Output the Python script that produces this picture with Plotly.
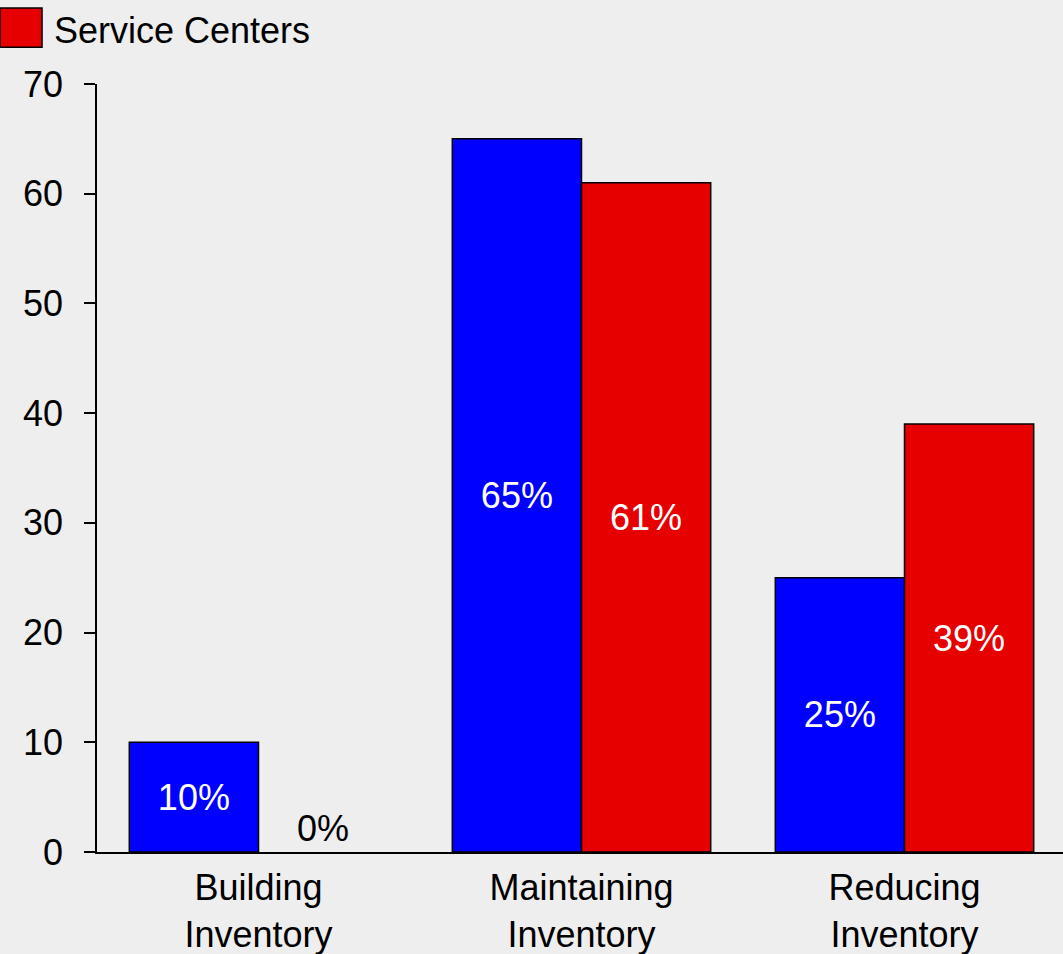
import plotly.graph_objects as go

categories = ["Building<br>Inventory", "Maintaining<br>Inventory", "Reducing<br>Inventory"]
distributors = [10, 65, 25]
service_centers = [0, 61, 39]
y_ticks = [0, 10, 20, 30, 40, 50, 60, 70]
legend_label = "Service Centers"

FONT = "Liberation Sans, Arial, sans-serif"
BG = "#eeeeee"
BLUE = "#0000ff"
RED = "#e60000"

def labels(vals):
    return [f"{v}%" for v in vals]

def positions(vals):
    return ["outside" if v == 0 else "inside" for v in vals]

def colors(vals):
    return ["black" if v == 0 else "white" for v in vals]

def outline(vals):
    return [0 if v == 0 else 1.5 for v in vals]

fig = go.Figure()
fig.add_trace(go.Bar(
    x=categories, y=distributors, name="Distributors",
    marker=dict(color=BLUE, line=dict(color="black", width=outline(distributors))),
    text=labels(distributors), textposition=positions(distributors),
    insidetextanchor="middle",
    textfont=dict(family=FONT, size=36, color=colors(distributors)),
    showlegend=False,
))
fig.add_trace(go.Bar(
    x=categories, y=service_centers, name=legend_label,
    marker=dict(color=RED, line=dict(color="black", width=outline(service_centers))),
    text=labels(service_centers), textposition=positions(service_centers),
    insidetextanchor="middle",
    textfont=dict(family=FONT, size=36, color=colors(service_centers)),
    showlegend=False,
))

# legend swatch + label (drawn to match the large legend key of the original)
fig.add_shape(type="rect", xref="paper", yref="paper",
              x0=-0.1004, x1=-0.0569, y0=1.048, y1=1.099,
              fillcolor=RED, line=dict(color="black", width=1.5))
fig.add_annotation(text=legend_label, xref="paper", yref="paper",
                   x=-0.0465, y=1.0703, xanchor="left", yanchor="middle",
                   showarrow=False, font=dict(family=FONT, size=36, color="black"))

fig.update_layout(
    width=1063, height=954,
    paper_bgcolor=BG, plot_bgcolor=BG,
    font=dict(family=FONT, size=36, color="black"),
    margin=dict(l=97, r=0, t=84, b=102, autoexpand=False),
    barmode="group", bargap=0.2, bargroupgap=0,
    showlegend=False,
    xaxis=dict(range=[-0.5, 2.4907], showline=True, linecolor="black", linewidth=1.5,
               ticks="", showgrid=False, zeroline=False, ticklabelstandoff=3,
               tickfont=dict(size=36, family=FONT)),
    yaxis=dict(range=[0, 70], tickvals=y_ticks, showline=True, linecolor="black",
               linewidth=1.5, ticks="outside", ticklen=11, tickwidth=1.5,
               tickcolor="black", showgrid=False, zeroline=False,
               ticklabelstandoff=14,
               tickfont=dict(size=36, family=FONT)),
)

fig.write_html("out.html", config={"displayModeBar": False},
               post_script="document.body.style.margin='0';document.body.style.background='#eeeeee';")
